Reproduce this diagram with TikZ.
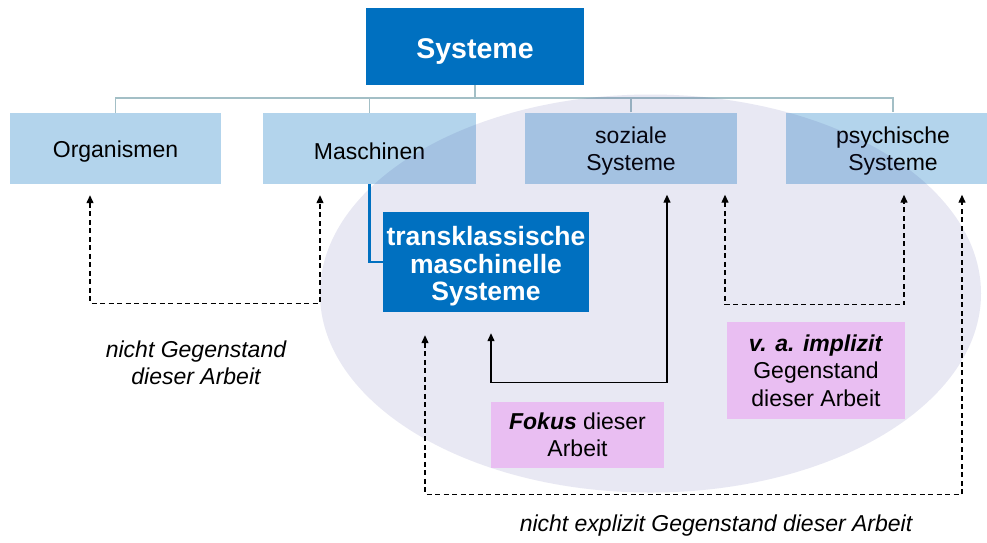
\documentclass[tikz,border=0pt]{standalone}
\usepackage{fontspec}
\setmainfont{Liberation Sans}
\usetikzlibrary{arrows.meta,calc}
\definecolor{darkblue}{HTML}{0070C0}
\definecolor{lightblue}{HTML}{B3D4EC}
\definecolor{treeline}{HTML}{A3BFC6}
\definecolor{pinkbox}{HTML}{E9BEF2}
\definecolor{ellfill}{RGB}{50,50,150}
% invisible strut on a first line: sets the text a little lower in its box
\newcommand\topgap[1]{\rule{0pt}{#1}}
\tikzset{
  box/.style={rectangle, inner sep=0pt, align=center, font=\fontsize{23}{27.5}\selectfont},
  subbox/.style={box, fill=lightblue},
  keybox/.style={rectangle, inner sep=0pt, align=center, fill=darkblue, text=white,
    font=\bfseries\fontsize{26.5}{27.5}\selectfont},
  notebox/.style={box, fill=pinkbox},
  tree/.style={draw=treeline, line width=1.6pt},
  flow/.style={line width=1.3pt, {Triangle[length=8pt,width=7pt]}-{Triangle[length=8pt,width=7pt]}},
  dflow/.style={flow, dash pattern=on 5pt off 3.5pt},
  label/.style={align=center, font=\itshape\fontsize{23}{27.5}\selectfont}
}
\begin{document}
\begin{tikzpicture}[x=1pt,y=-1pt]
\useasboundingbox (0,0) rectangle (987,542);
\fill[white] (0,0) rectangle (987,542);

% top of the hierarchy
\node[keybox, minimum width=218pt, minimum height=77pt, font=\bfseries\fontsize{28.5}{30}\selectfont]
  (sys) at (475,46.5) {\topgap{29pt}Systeme};

% second level
\node[subbox, minimum width=211pt, minimum height=71pt] (org) at (115.5,148.5) {\topgap{23pt}Organismen};
\node[subbox, minimum width=213pt, minimum height=71pt] (mas) at (369.5,148.5) {\topgap{23pt}Maschinen};
\node[subbox, minimum width=212pt, minimum height=71pt] (soz) at (631,148) {\topgap{23pt}soziale\\Systeme};
\node[subbox, minimum width=214pt, minimum height=71pt] (psy) at (893,148) {\topgap{23pt}psychische\\Systeme};

% tree connectors
\coordinate (bar) at ($(sys.south)+(0,13)$);
\draw[tree] (sys.south) -- (bar);
\draw[tree] (org.north) -- ++(0,-15) -| (psy.north);
\draw[tree] (mas.north) -- ++(0,-15);
\draw[tree] (soz.north) -- ++(0,-14);

% translucent region
\fill[ellfill, opacity=0.11] (650.5,293.5) ellipse [x radius=330.5pt, y radius=199pt];

% machine subclass
\node[keybox, minimum width=206pt, minimum height=100pt] (trans) at (486,262)
  {\topgap{27.5pt}transklassische\\maschinelle\\Systeme};
\draw[darkblue, line width=2.4pt] (mas.south) |- (trans.west);

% annotation boxes
\node[notebox, minimum width=173pt, minimum height=66pt] (fok) at (577.5,435)
  {\textbf{\textit{Fokus}} dieser\\Arbeit};
\node[notebox, minimum width=178pt, minimum height=97pt] (imp) at (816,370.5)
  {\textbf{\textit{v. a. implizit}}\\Gegenstand\\dieser Arbeit};

% relations
\draw[dflow] ($(org.south)+(-25.5,11)$) -- ++(0,108) -| ($(mas.south)+(-49.5,11)$);
\draw[flow] ($(trans.south)+(5,21)$) -- ++(0,49) -| ($(soz.south)+(36,11)$);
\draw[dflow] ($(soz.south)+(94,11)$) -- ++(0,110) -| ($(psy.south)+(11,11)$);
\draw[dflow] ($(trans.south)+(-61,23)$) -- ++(0,159) -| ($(psy.south)+(69,11)$);

% captions
\node[label] (cap1) at (196,363) {nicht Gegenstand\\dieser Arbeit};
\node[label] (cap2) at (716,526) {nicht explizit Gegenstand dieser Arbeit};
\end{tikzpicture}
\end{document}
